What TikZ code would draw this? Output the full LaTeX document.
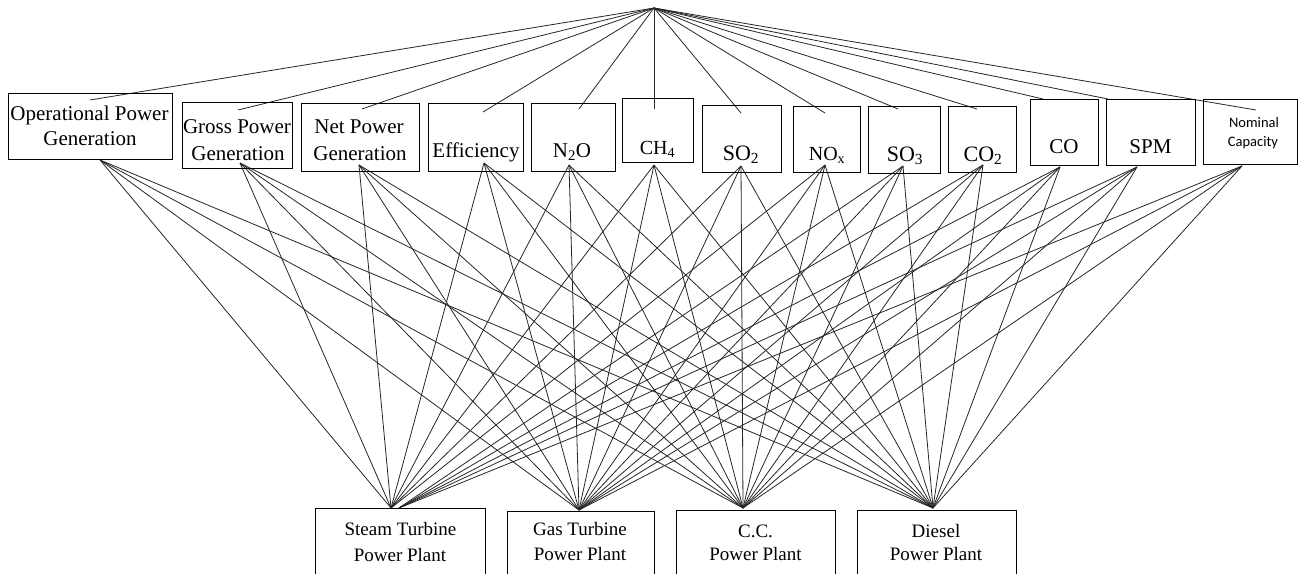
\documentclass[tikz,border=0pt]{standalone}
\usepackage{fontspec}
\setmainfont{Liberation Serif}
\newfontfamily\calib{Carlito}
\begin{document}
\begin{tikzpicture}[x=1pt,y=-1pt,
  box/.style={draw, line width=1pt, rectangle, inner sep=0pt},
  lbl/.style={anchor=base, inner sep=0pt, font=\fontsize{21}{25}\selectfont},
  blbl/.style={anchor=base, inner sep=0pt, font=\fontsize{19}{23}\selectfont},
  conn/.style={line width=0.8pt, black!85}]
\useasboundingbox (0,0) rectangle (1298,573);
\clip (0,0) rectangle (1298,573);

% apex
\coordinate (apex) at (654,8);

% upper ends (inside top boxes)
\coordinate (opT) at (90,100);
\coordinate (grossT) at (238,110);
\coordinate (netT) at (362,109);
\coordinate (effT) at (483,112);
\coordinate (ntwoT) at (579,109);
\coordinate (chT) at (654,109);
\coordinate (sotwoT) at (741,113);
\coordinate (noxT) at (825,113);
\coordinate (sothreeT) at (898,109);
\coordinate (cotwoT) at (977,109);
\coordinate (coT) at (1043,99);
\coordinate (spmT) at (1108,99);
\coordinate (nomT) at (1256,110);

% lower ends (inside top boxes)
\coordinate (opL) at (100,160);
\coordinate (grossL) at (240,163);
\coordinate (netL) at (359,165);
\coordinate (effL) at (484,163);
\coordinate (ntwoL) at (569,165);
\coordinate (chL) at (654,165);
\coordinate (sotwoL) at (741,166);
\coordinate (noxL) at (825,165);
\coordinate (sothreeL) at (903,166);
\coordinate (cotwoL) at (983,165);
\coordinate (coL) at (1060,167);
\coordinate (spmL) at (1137,167);
\coordinate (nomL) at (1242,166);

% convergence points on bottom boxes
\coordinate (steamP) at (391,508);
\coordinate (steamQ) at (399,508);
\coordinate (gasP) at (579,510);
\coordinate (ccP) at (743,508);
\coordinate (dieselP) at (933,508);

% connectors
\foreach \t in {op,gross,net,eff,ntwo,ch,sotwo,nox,sothree,cotwo,co,spm,nom}{
  \draw[conn] (apex) -- (\t T);
  \foreach \b in {gas,cc,diesel}{
    \draw[conn] (\t L) -- (\b P);
  }
}
\foreach \t in {op,gross,net,eff,ntwo,ch,sotwo,nox}{
  \draw[conn] (\t L) -- (steamP);
}
\foreach \t in {sothree,cotwo,co,spm,nom}{
  \draw[conn] (\t L) -- (steamQ);
}

% top boxes
\node[box, minimum width=164pt, minimum height=66pt] (opB) at (90,126) {};
\node[box, minimum width=110pt, minimum height=66pt] (grossB) at (237,135) {};
\node[box, minimum width=118pt, minimum height=68pt] (netB) at (360,137) {};
\node[box, minimum width=95pt, minimum height=68pt] (effB) at (475.5,137) {};
\node[box, minimum width=84pt, minimum height=68pt] (ntwoB) at (573,137) {};
\node[box, minimum width=71pt, minimum height=64pt] (chB) at (657.5,130) {};
\node[box, minimum width=79pt, minimum height=67pt] (sotwoB) at (741.5,138.5) {};
\node[box, minimum width=67pt, minimum height=66pt] (noxB) at (826.5,139) {};
\node[box, minimum width=72pt, minimum height=67pt] (sothreeB) at (904,139.5) {};
\node[box, minimum width=68pt, minimum height=66pt] (cotwoB) at (982,139) {};
\node[box, minimum width=68pt, minimum height=66pt] (coB) at (1064,132) {};
\node[box, minimum width=89pt, minimum height=66pt] (spmB) at (1150.5,132) {};
\node[box, minimum width=94pt, minimum height=65pt] (nomB) at (1250,131.5) {};

% top labels
\node[lbl] (op1) at (89.5,120) {Operational Power};
\node[lbl] (op2) at (90,145) {Generation};
\node[lbl] (gross1) at (237,133) {Gross Power};
\node[lbl] (gross2) at (238,160) {Generation};
\node[lbl] (net1) at (359,133) {Net Power};
\node[lbl] (net2) at (360,160) {Generation};
\node[lbl] (eff1) at (476,157) {Efficiency};
\node[lbl] (ntwo1) at (572,157) {N\textsubscript{2}O};
\node[lbl, font=\fontsize{20}{24}\selectfont] (ch1) at (657.5,154) {CH\textsubscript{4}};
\node[lbl, font=\fontsize{22}{26}\selectfont] (sotwo1) at (741,160) {SO\textsubscript{2}};
\node[lbl, font=\fontsize{20}{24}\selectfont] (nox1) at (827,160) {NO\textsubscript{x}};
\node[lbl, font=\fontsize{22}{26}\selectfont] (sothree1) at (905,161) {SO\textsubscript{3}};
\node[lbl, font=\fontsize{22}{26}\selectfont] (cotwo1) at (983,161) {CO\textsubscript{2}};
\node[lbl] (co1) at (1064,153) {CO};
\node[lbl] (spm1) at (1150.5,153) {SPM};
\node[lbl, font=\calib\fontsize{14.5}{17}\selectfont] (nom1) at (1254,127) {Nominal};
\node[lbl, font=\calib\fontsize{14.5}{17}\selectfont] (nom2) at (1253,146) {Capacity};

% bottom boxes
\node[box, anchor=north west, minimum width=170pt, minimum height=80pt] (steamB) at (315,508) {};
\node[box, anchor=north west, minimum width=147pt, minimum height=80pt] (gasB) at (507,511) {};
\node[box, anchor=north west, minimum width=159pt, minimum height=80pt] (ccB) at (676,510) {};
\node[box, anchor=north west, minimum width=159pt, minimum height=80pt] (dieselB) at (857,510) {};

% bottom labels
\node[blbl] (steam1) at (400.5,535) {Steam Turbine};
\node[blbl] (steam2) at (400,561) {Power Plant};
\node[blbl] (gas1) at (580,535) {Gas Turbine};
\node[blbl] (gas2) at (580,560) {Power Plant};
\node[blbl] (cc1) at (755.5,537) {C.C.};
\node[blbl] (cc2) at (755.5,560) {Power Plant};
\node[blbl] (diesel1) at (936,537) {Diesel};
\node[blbl] (diesel2) at (936,560) {Power Plant};
\end{tikzpicture}
\end{document}
